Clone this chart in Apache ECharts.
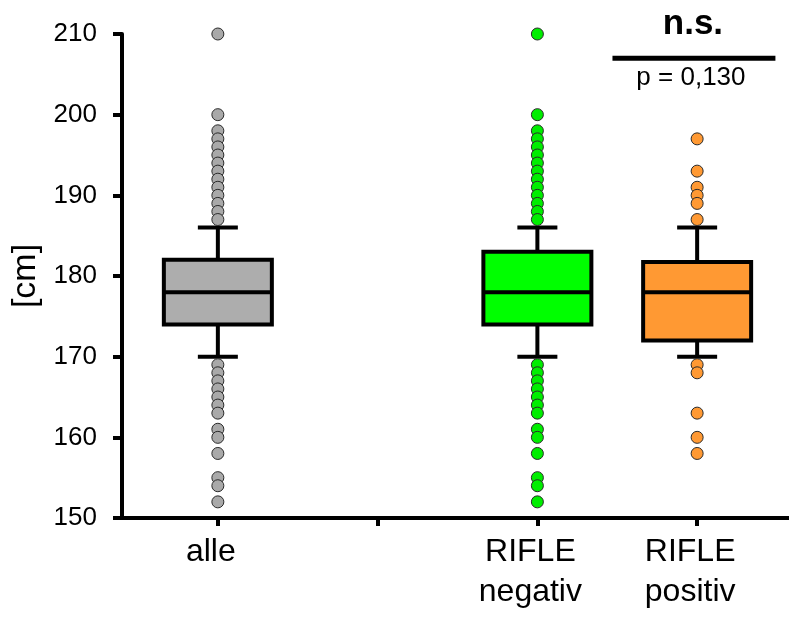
<!DOCTYPE html>
<html><head><meta charset="utf-8">
<script src="https://cdn.jsdelivr.net/npm/echarts@6/dist/echarts.min.js"></script>
<style>html,body{margin:0;padding:0;background:#fff}#c{width:789px;height:617px}</style>
</head><body><div id="c"></div>
<script>
// ---- data ----
const categoryNames = ['alle', '', 'RIFLE\nnegativ', 'RIFLE\npositiv'];
const categoryTicks = [0, 1, 2, 3];
const groupPositions = [0, 2, 3];
// [min(whisker), Q1, median, Q3, max(whisker)]
const boxAlle = [170, 174, 178, 182, 186];
const boxNegativ = [170, 174, 178, 183, 186];
const boxPositiv = [170, 172, 178, 181.75, 186];
const outAlle = [210, 200, 198, 197, 196, 195, 194, 193, 192, 191, 190, 189, 188, 187,
                 169, 168, 167, 166, 165, 164, 163, 161, 160, 158, 155, 154, 152];
const outNegativ = [210, 200, 198, 197, 196, 195, 194, 193, 192, 191, 190, 189, 188, 187,
                    169, 168, 167, 166, 165, 164, 163, 161, 160, 158, 155, 154, 152];
const outPositiv = [197, 193, 191, 190, 189, 187, 169, 168, 163, 160, 158];
const yMin = 150, yMax = 210, yStep = 10;
const sigLabel = 'n.s.';
const pLabel = 'p = 0,130';
const sigSpan = [2.47, 3.49];
const sigLevel = 207;

// ---- styles ----
const boxFills = ['#adadad', '#00ff00', '#ff9933'];
const dotFills = ['#a9a9a9', '#00ee00', '#ff9933'];
const FONT = '"Liberation Sans", Arial, sans-serif';

const boxes = [boxAlle, boxNegativ, boxPositiv];
const outs = [outAlle, outNegativ, outPositiv];

const boxData = boxes.map((b, i) => [groupPositions[i], ...b, i]);

function renderItem(params, api) {
  const x = api.value(0);
  const pMin = api.coord([x, api.value(1)]);
  const pQ1 = api.coord([x, api.value(2)]);
  const pMd = api.coord([x, api.value(3)]);
  const pQ3 = api.coord([x, api.value(4)]);
  const pMax = api.coord([x, api.value(5)]);
  const ci = api.value(6);
  const cx = pMin[0];
  const hw = 54, cw = 20;
  const ls = { stroke: '#000', lineWidth: 4 };
  return {
    type: 'group',
    children: [
      { type: 'line', shape: { x1: cx, y1: pMax[1], x2: cx, y2: pQ3[1] }, style: ls },
      { type: 'line', shape: { x1: cx, y1: pQ1[1], x2: cx, y2: pMin[1] }, style: ls },
      { type: 'line', shape: { x1: cx - cw, y1: pMax[1], x2: cx + cw, y2: pMax[1] }, style: ls },
      { type: 'line', shape: { x1: cx - cw, y1: pMin[1], x2: cx + cw, y2: pMin[1] }, style: ls },
      { type: 'rect', shape: { x: cx - hw, y: pQ3[1], width: 2 * hw, height: pQ1[1] - pQ3[1] },
        style: { fill: boxFills[ci], stroke: '#000', lineWidth: 4, lineJoin: 'miter' } },
      { type: 'line', shape: { x1: cx - hw, y1: pMd[1], x2: cx + hw, y2: pMd[1] }, style: ls }
    ]
  };
}

const chart = echarts.init(document.getElementById('c'), null, { renderer: 'canvas' });
const series = [{
  type: 'custom', renderItem: renderItem, data: boxData,
  encode: { x: 0, y: [1, 2, 3, 4, 5] }, z: 2, silent: true
}];
outs.forEach((arr, i) => {
  series.push({
    type: 'scatter', symbol: 'circle', symbolSize: 12, z: 3, silent: true,
    itemStyle: { color: dotFills[i], borderColor: '#2a2a2a', borderWidth: 1, opacity: 1 },
    data: arr.map(v => [groupPositions[i], v])
  });
});

chart.setOption({
  animation: false,
  backgroundColor: '#fff',
  grid: { left: 122, right: 0, top: 34, bottom: 99, containLabel: false, outerBoundsMode: 'none' },
  xAxis: {
    type: 'value', min: -0.6, max: 3.575,
    axisLine: { show: true, onZero: false, lineStyle: { color: '#000', width: 4 } },
    axisTick: { show: true, length: 8, customValues: categoryTicks, lineStyle: { color: '#000', width: 4 } },
    axisLabel: {
      show: true, customValues: groupPositions, margin: 14,
      padding: [0, 14, 0, 0],
      formatter: v => categoryNames[Math.round(v)],
      color: '#000', fontSize: 32, lineHeight: 40, fontFamily: FONT
    },
    splitLine: { show: false }
  },
  yAxis: {
    type: 'value', min: yMin, max: yMax, interval: yStep,
    name: '[cm]', nameLocation: 'middle', nameGap: 78,
    nameTextStyle: { color: '#000', fontSize: 34, fontFamily: FONT },
    axisLine: { show: true, onZero: false, lineStyle: { color: '#000', width: 4 } },
    axisTick: { show: true, length: 9, lineStyle: { color: '#000', width: 4 } },
    axisLabel: { color: '#000', fontSize: 26, margin: 25, fontFamily: FONT },
    splitLine: { show: false }
  },
  series: series
});

// significance annotation, positioned through the axes
const pL = chart.convertToPixel({ gridIndex: 0 }, [sigSpan[0], sigLevel]);
const pR = chart.convertToPixel({ gridIndex: 0 }, [sigSpan[1], sigLevel]);
const midX = (pL[0] + pR[0]) / 2;
chart.setOption({
  graphic: [
    { type: 'line', shape: { x1: pL[0], y1: pL[1], x2: pR[0], y2: pR[1] },
      style: { stroke: '#000', lineWidth: 5 } },
    { type: 'text', x: midX - 1, y: pL[1] - 16,
      style: { text: sigLabel, fill: '#000', font: 'bold 35px ' + FONT, align: 'center', verticalAlign: 'bottom' } },
    { type: 'text', x: midX - 3, y: pL[1] + 7,
      style: { text: pLabel, fill: '#000', font: '26px ' + FONT, align: 'center', verticalAlign: 'top' } }
  ]
});
</script></body></html>
